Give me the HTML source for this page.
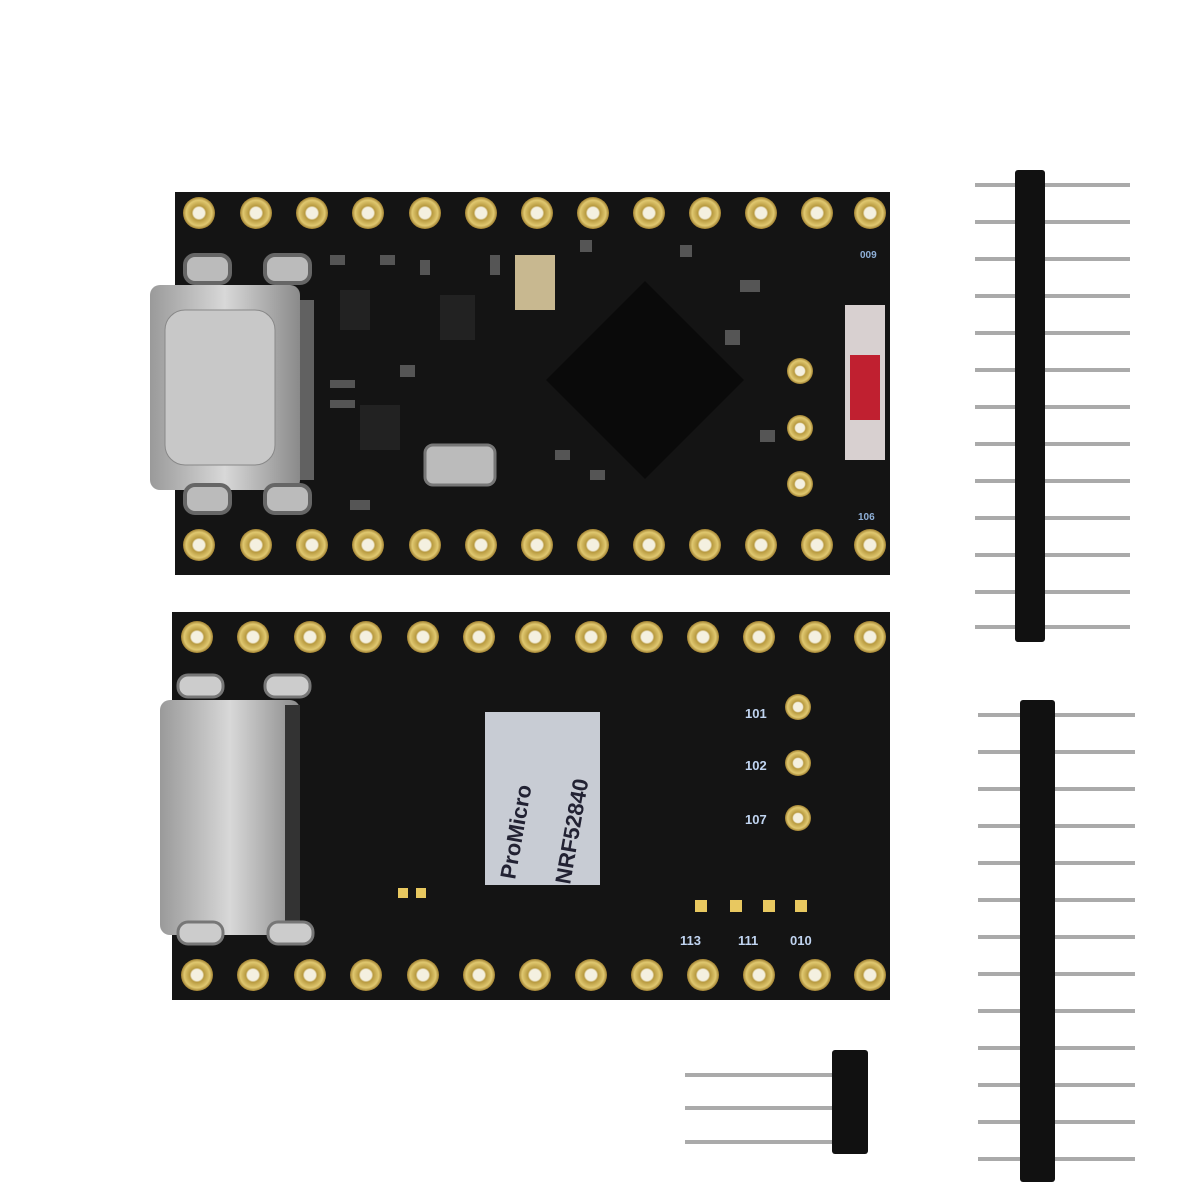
<!DOCTYPE html>
<html><head><style>body{margin:0;background:#fff}svg{display:block}text{font-family:"Liberation Sans",sans-serif;font-weight:bold}</style></head>
<body>
<svg width="1200" height="1200" viewBox="0 0 1200 1200" xmlns="http://www.w3.org/2000/svg">
<defs>
<radialGradient id="pad"><stop offset="0.35" stop-color="#f4f0e0"/><stop offset="0.45" stop-color="#b89a40"/><stop offset="0.8" stop-color="#e0c870"/><stop offset="1" stop-color="#a08030"/></radialGradient>
<linearGradient id="metal" x1="0" x2="1"><stop offset="0" stop-color="#9a9a9a"/><stop offset="0.5" stop-color="#d8d8d8"/><stop offset="1" stop-color="#8a8a8a"/></linearGradient>
<linearGradient id="pin" x1="0" y1="0" x2="0" y2="1"><stop offset="0" stop-color="#eee"/><stop offset="0.5" stop-color="#999"/><stop offset="1" stop-color="#ccc"/></linearGradient>
</defs>
<!-- top board -->
<rect x="175" y="192" width="715" height="383" fill="#141414"/>
<rect x="150" y="285" width="150" height="205" rx="10" fill="url(#metal)"/>
<rect x="165" y="310" width="110" height="155" rx="20" fill="#c8c8c8" stroke="#888"/>
<rect x="185" y="255" width="45" height="28" rx="10" fill="#bbb" stroke="#666" stroke-width="4"/>
<rect x="265" y="255" width="45" height="28" rx="10" fill="#bbb" stroke="#666" stroke-width="4"/>
<rect x="185" y="485" width="45" height="28" rx="10" fill="#bbb" stroke="#666" stroke-width="4"/>
<rect x="265" y="485" width="45" height="28" rx="10" fill="#bbb" stroke="#666" stroke-width="4"/>
<rect x="515" y="255" width="40" height="55" fill="#c8b890"/>
<rect x="425" y="445" width="70" height="40" rx="8" fill="#bbb" stroke="#777" stroke-width="3"/>
<rect x="575" y="310" width="140" height="140" fill="#0a0a0a" transform="rotate(45 645 380)"/>
<rect x="845" y="305" width="40" height="155" fill="#d8d0d0"/>
<rect x="850" y="355" width="30" height="65" fill="#c02030"/>
<rect x="340" y="290" width="30" height="40" fill="#222"/><rect x="440" y="295" width="35" height="45" fill="#222"/><rect x="360" y="405" width="40" height="45" fill="#222"/>
<g fill="#555">
<rect x="330" y="255" width="15" height="10"/><rect x="380" y="255" width="15" height="10"/><rect x="420" y="260" width="10" height="15"/><rect x="490" y="255" width="10" height="20"/>
<rect x="580" y="240" width="12" height="12"/><rect x="680" y="245" width="12" height="12"/><rect x="740" y="280" width="20" height="12"/><rect x="760" y="430" width="15" height="12"/>
<rect x="555" y="450" width="15" height="10"/><rect x="590" y="470" width="15" height="10"/><rect x="330" y="380" width="25" height="8"/><rect x="330" y="400" width="25" height="8"/>
<rect x="400" y="365" width="15" height="12"/><rect x="350" y="500" width="20" height="10"/><rect x="725" y="330" width="15" height="15"/>
</g>
<g fill="#d4d4d4"><rect x="300" y="300" width="14" height="180" opacity="0.4"/></g>
<circle cx="800" cy="371" r="13" fill="url(#pad)"/><circle cx="800" cy="428" r="13" fill="url(#pad)"/><circle cx="800" cy="484" r="13" fill="url(#pad)"/>
<g fill="url(#pad)">
<circle cx="199" cy="213" r="16"/><circle cx="256" cy="213" r="16"/><circle cx="312" cy="213" r="16"/><circle cx="368" cy="213" r="16"/><circle cx="425" cy="213" r="16"/><circle cx="481" cy="213" r="16"/><circle cx="537" cy="213" r="16"/><circle cx="593" cy="213" r="16"/><circle cx="649" cy="213" r="16"/><circle cx="705" cy="213" r="16"/><circle cx="761" cy="213" r="16"/><circle cx="817" cy="213" r="16"/><circle cx="870" cy="213" r="16"/>
<circle cx="199" cy="545" r="16"/><circle cx="256" cy="545" r="16"/><circle cx="312" cy="545" r="16"/><circle cx="368" cy="545" r="16"/><circle cx="425" cy="545" r="16"/><circle cx="481" cy="545" r="16"/><circle cx="537" cy="545" r="16"/><circle cx="593" cy="545" r="16"/><circle cx="649" cy="545" r="16"/><circle cx="705" cy="545" r="16"/><circle cx="761" cy="545" r="16"/><circle cx="817" cy="545" r="16"/><circle cx="870" cy="545" r="16"/>
</g>
<g fill="#8fb0d8" font-size="10">
<text x="860" y="258">009</text><text x="858" y="520">106</text>
</g>
<!-- bottom board -->
<rect x="172" y="612" width="718" height="388" fill="#141414"/>
<rect x="160" y="700" width="140" height="235" rx="10" fill="url(#metal)"/>
<rect x="285" y="705" width="15" height="225" fill="#333"/>
<rect x="178" y="675" width="45" height="22" rx="10" fill="#ccc" stroke="#777" stroke-width="3"/>
<rect x="265" y="675" width="45" height="22" rx="10" fill="#ccc" stroke="#777" stroke-width="3"/>
<rect x="178" y="922" width="45" height="22" rx="10" fill="#ccc" stroke="#777" stroke-width="3"/>
<rect x="268" y="922" width="45" height="22" rx="10" fill="#ccc" stroke="#777" stroke-width="3"/>
<rect x="485" y="712" width="115" height="173" fill="#c8ccd4"/>
<text x="0" y="0" font-size="22" fill="#223" transform="translate(515 880) rotate(-80)">ProMicro</text>
<text x="0" y="0" font-size="22" fill="#223" transform="translate(570 885) rotate(-80)">NRF52840</text>
<g fill="#e8c860"><rect x="398" y="888" width="10" height="10"/><rect x="416" y="888" width="10" height="10"/><rect x="695" y="900" width="12" height="12"/><rect x="730" y="900" width="12" height="12"/><rect x="763" y="900" width="12" height="12"/><rect x="795" y="900" width="12" height="12"/></g>
<circle cx="798" cy="707" r="13" fill="url(#pad)"/><circle cx="798" cy="763" r="13" fill="url(#pad)"/><circle cx="798" cy="818" r="13" fill="url(#pad)"/>
<g fill="#c0d4f0" font-size="13"><text x="745" y="718">101</text><text x="745" y="770">102</text><text x="745" y="824">107</text>
<text x="680" y="945">113</text><text x="738" y="945">111</text><text x="790" y="945">010</text></g>
<g fill="url(#pad)">
<circle cx="197" cy="637" r="16"/><circle cx="253" cy="637" r="16"/><circle cx="310" cy="637" r="16"/><circle cx="366" cy="637" r="16"/><circle cx="423" cy="637" r="16"/><circle cx="479" cy="637" r="16"/><circle cx="535" cy="637" r="16"/><circle cx="591" cy="637" r="16"/><circle cx="647" cy="637" r="16"/><circle cx="703" cy="637" r="16"/><circle cx="759" cy="637" r="16"/><circle cx="815" cy="637" r="16"/><circle cx="870" cy="637" r="16"/>
<circle cx="197" cy="975" r="16"/><circle cx="253" cy="975" r="16"/><circle cx="310" cy="975" r="16"/><circle cx="366" cy="975" r="16"/><circle cx="423" cy="975" r="16"/><circle cx="479" cy="975" r="16"/><circle cx="535" cy="975" r="16"/><circle cx="591" cy="975" r="16"/><circle cx="647" cy="975" r="16"/><circle cx="703" cy="975" r="16"/><circle cx="759" cy="975" r="16"/><circle cx="815" cy="975" r="16"/><circle cx="870" cy="975" r="16"/>
</g>
<!-- headers -->
<g stroke="#aaa" stroke-width="4">
<line x1="975" y1="185" x2="1130" y2="185"/><line x1="975" y1="222" x2="1130" y2="222"/><line x1="975" y1="259" x2="1130" y2="259"/><line x1="975" y1="296" x2="1130" y2="296"/><line x1="975" y1="333" x2="1130" y2="333"/><line x1="975" y1="370" x2="1130" y2="370"/><line x1="975" y1="407" x2="1130" y2="407"/><line x1="975" y1="444" x2="1130" y2="444"/><line x1="975" y1="481" x2="1130" y2="481"/><line x1="975" y1="518" x2="1130" y2="518"/><line x1="975" y1="555" x2="1130" y2="555"/><line x1="975" y1="592" x2="1130" y2="592"/><line x1="975" y1="627" x2="1130" y2="627"/>
<line x1="978" y1="715" x2="1135" y2="715"/><line x1="978" y1="752" x2="1135" y2="752"/><line x1="978" y1="789" x2="1135" y2="789"/><line x1="978" y1="826" x2="1135" y2="826"/><line x1="978" y1="863" x2="1135" y2="863"/><line x1="978" y1="900" x2="1135" y2="900"/><line x1="978" y1="937" x2="1135" y2="937"/><line x1="978" y1="974" x2="1135" y2="974"/><line x1="978" y1="1011" x2="1135" y2="1011"/><line x1="978" y1="1048" x2="1135" y2="1048"/><line x1="978" y1="1085" x2="1135" y2="1085"/><line x1="978" y1="1122" x2="1135" y2="1122"/><line x1="978" y1="1159" x2="1135" y2="1159"/>
<line x1="685" y1="1075" x2="855" y2="1075"/><line x1="685" y1="1108" x2="855" y2="1108"/><line x1="685" y1="1142" x2="855" y2="1142"/>
</g>
<rect x="1015" y="170" width="30" height="472" rx="3" fill="#111"/>
<rect x="1020" y="700" width="35" height="482" rx="3" fill="#111"/>
<rect x="832" y="1050" width="36" height="104" rx="3" fill="#111"/>
</svg>
</body></html>
